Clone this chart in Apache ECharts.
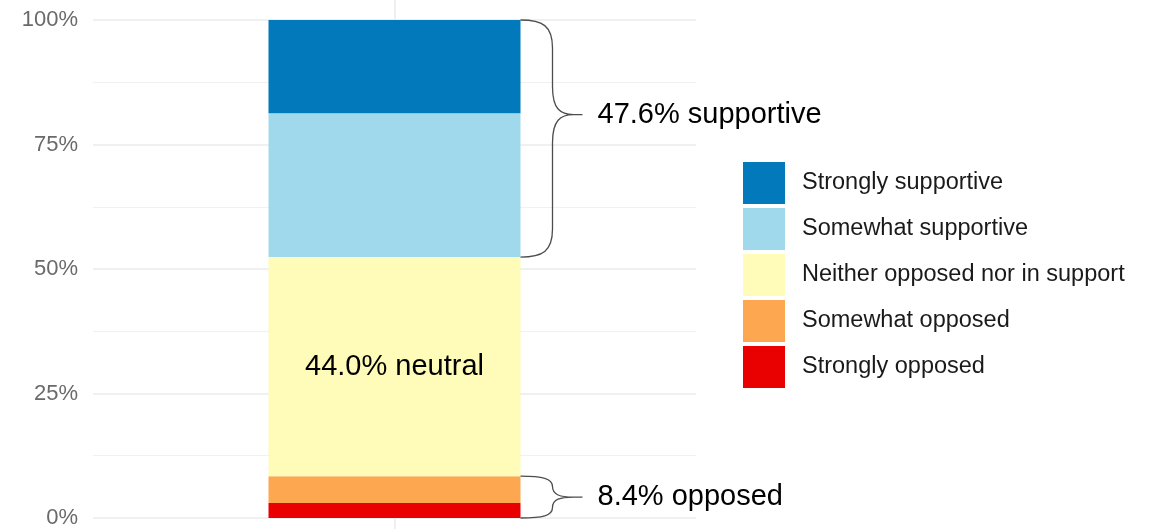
<!DOCTYPE html>
<html><head><meta charset="utf-8">
<script src="https://cdn.jsdelivr.net/npm/echarts@6/dist/echarts.min.js"></script>
<style>html,body{margin:0;padding:0;background:#fff}#c{width:1153px;height:529px}</style>
</head><body><div id="c"></div>
<script>
// ---- data ----
const categories = ['All respondents'];
const seriesNames = ['Strongly opposed', 'Somewhat opposed', 'Neither opposed nor in support', 'Somewhat supportive', 'Strongly supportive'];
const stronglyOpposed = [3.0];
const somewhatOpposed = [5.4];
const neutral = [44.0];
const somewhatSupportive = [28.9];
const stronglySupportive = [18.7];
const yTicks = [0, 25, 50, 75, 100];
const yMinorTicks = [12.5, 37.5, 62.5, 87.5];
const legendOrder = ['Strongly supportive', 'Somewhat supportive', 'Neither opposed nor in support', 'Somewhat opposed', 'Strongly opposed'];
const colors = ['#E90000', '#FDA851', '#FEFCB8', '#A1D9EC', '#0179BB'];
const braceTips = [4.2, 81.0];

const seriesValues = [stronglyOpposed, somewhatOpposed, neutral, somewhatSupportive, stronglySupportive];
const opposedTotal = stronglyOpposed[0] + somewhatOpposed[0];
const supportTotal = somewhatSupportive[0] + stronglySupportive[0];
const braceData = [
  [0, 0, opposedTotal, braceTips[0]],
  [0, opposedTotal + neutral[0], opposedTotal + neutral[0] + supportTotal, braceTips[1]]
];
const braceLabels = [opposedTotal.toFixed(1) + '% opposed', supportTotal.toFixed(1) + '% supportive'];

const FONT = "'Liberation Sans', Arial, Helvetica, sans-serif";
const BAR_W = 252;

const chart = echarts.init(document.getElementById('c'));

const barSeries = seriesNames.map((name, i) => ({
  name: name,
  type: 'bar',
  stack: 'total',
  barWidth: BAR_W,
  data: seriesValues[i],
  itemStyle: { color: colors[i] },
  emphasis: { disabled: true },
  label: i === 2 ? {
    show: true, position: 'inside',
    formatter: p => p.value.toFixed(1) + '% neutral',
    fontSize: 29, fontFamily: FONT, color: '#000'
  } : { show: false },
  z: 3
}));

const braceSeries = {
  name: 'braces',
  type: 'custom',
  data: braceData,
  silent: true,
  z: 4,
  renderItem: function (params, api) {
    const c = api.value(0);
    const lo = api.coord([c, api.value(1)]);
    const hi = api.coord([c, api.value(2)]);
    const tip = api.coord([c, api.value(3)]);
    const x0 = lo[0] + BAR_W / 2;
    const yt = hi[1], yb = lo[1], ym = tip[1];
    const r1 = Math.min(28, (ym - yt) / 2);
    const r2 = Math.min(28, (yb - ym) / 2);
    const x1 = x0 + 32, xc = x0 + 53, xt = x0 + 62;
    const p = 'M' + x0 + ',' + yt +
      ' C' + (x0 + 22) + ',' + yt + ' ' + x1 + ',' + (yt + r1 * 0.2) + ' ' + x1 + ',' + (yt + r1) +
      ' L' + x1 + ',' + (ym - r1) +
      ' C' + x1 + ',' + (ym - r1 * 0.2) + ' ' + (x1 + 8) + ',' + ym + ' ' + xc + ',' + ym +
      ' L' + xt + ',' + ym +
      ' M' + xc + ',' + ym +
      ' C' + (x1 + 8) + ',' + ym + ' ' + x1 + ',' + (ym + r2 * 0.2) + ' ' + x1 + ',' + (ym + r2) +
      ' L' + x1 + ',' + (yb - r2) +
      ' C' + x1 + ',' + (yb - r2 * 0.2) + ' ' + (x0 + 22) + ',' + yb + ' ' + x0 + ',' + yb;
    return {
      type: 'group',
      children: [
        { type: 'path', shape: { pathData: p }, style: { fill: 'none', stroke: '#4d4d4d', lineWidth: 1.3 } },
        { type: 'text', x: xt + 15, y: ym, style: { text: braceLabels[params.dataIndex], fontSize: 29, fontFamily: FONT, fill: '#000', verticalAlign: 'middle', align: 'left' } }
      ]
    };
  }
};

const yCommon = {
  type: 'value', min: -2.21, max: 104.02,
  axisLine: { show: false }
};

chart.setOption({
  animation: false,
  backgroundColor: '#fff',
  grid: { left: 93, right: 457, top: 0, bottom: 0, containLabel: false },
  xAxis: {
    type: 'category', data: categories,
    axisLine: { show: false }, axisTick: { show: false }, axisLabel: { show: false },
    splitLine: { show: true, alignWithLabel: true, lineStyle: { color: '#EBEBEB', width: 1.5 } }
  },
  yAxis: [
    Object.assign({}, yCommon, {
      axisTick: { show: false, customValues: yTicks },
      axisLabel: { customValues: yTicks, formatter: v => v + '%', fontSize: 22, fontFamily: FONT, color: '#6a6a6a', margin: 15 },
      splitLine: { show: true, lineStyle: { color: '#EBEBEB', width: 1.6 } }
    }),
    Object.assign({}, yCommon, {
      position: 'left',
      axisTick: { show: false, customValues: yMinorTicks },
      axisLabel: { show: false, customValues: yMinorTicks },
      splitLine: { show: true, lineStyle: { color: '#F1F1F1', width: 1.1 } }
    })
  ],
  legend: {
    data: legendOrder,
    orient: 'vertical',
    left: 743, top: 162,
    padding: 0,
    itemWidth: 42, itemHeight: 42, itemGap: 4,
    icon: 'rect',
    selectedMode: false,
    textStyle: { fontSize: 23.5, fontFamily: FONT, color: '#1a1a1a', padding: [0, 0, 0, 12] }
  },
  series: barSeries.concat([braceSeries])
});
</script>
</body></html>
